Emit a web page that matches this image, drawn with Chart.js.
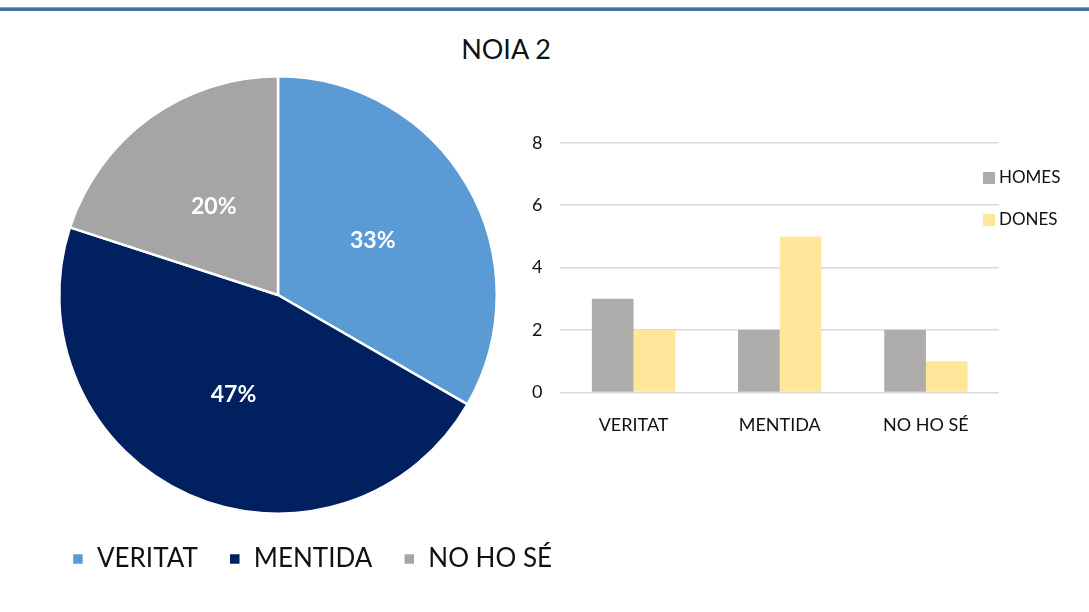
<!DOCTYPE html>
<html>
<head>
<meta charset="utf-8">
<script src="https://cdn.jsdelivr.net/npm/chart.js@4"></script>
<style>
  body { margin: 0; width: 1089px; height: 612px; background: #fff; position: relative; overflow: hidden; font-family: Lato, sans-serif; }
  #linia { position: absolute; left: 0; top: 7px; width: 1089px; height: 3px; background: #44709f; border-top: 1px solid #7f9fc0; }
  #titol { position: absolute; left: 406px; top: 32px; width: 200px; text-align: center; font-size: 27px; color: #111; }
  #pastis { position: absolute; left: 0; top: 67px; }
  #barres { position: absolute; left: 514px; top: 114px; }
</style>
</head>
<body>
<div id="linia"></div>
<div id="titol">NOIA 2</div>
<canvas id="pastis" width="624" height="515"></canvas>
<canvas id="barres" width="575" height="336"></canvas>
<script>
const categories = ['VERITAT', 'MENTIDA', 'NO HO SÉ'];
const totals = [5, 7, 3];
const homes = [3, 2, 2];
const dones = [2, 5, 1];
const colorsPastis = ['#5b9bd5', '#002060', '#a5a5a5'];

// etiquetes de percentatge dins del pastis
const percentatges = {
    id: 'percentatges',
    afterDatasetsDraw(chart) {
        const ctx = chart.ctx;
        const meta = chart.getDatasetMeta(0);
        const dades = chart.data.datasets[0].data;
        const suma = dades.reduce((a, b) => a + b, 0);
        ctx.save();
        ctx.fillStyle = '#fff';
        ctx.font = 'bold 23px Lato';
        ctx.textAlign = 'center';
        ctx.textBaseline = 'middle';
        meta.data.forEach((arc, i) => {
            const mig = (arc.startAngle + arc.endAngle) / 2;
            const r = arc.outerRadius * 0.5;
            const x = arc.x + Math.cos(mig) * r;
            const y = arc.y + Math.sin(mig) * r;
            ctx.fillText(Math.round(dades[i] / suma * 100) + '%', x, y);
        });
        ctx.restore();
    }
};

// el pastis queda a l'esquerra, la llegenda una mica desplaçada a la dreta
const retallaArea = {
    id: 'retallaArea',
    afterLayout(chart) {
        chart.chartArea.right -= 68;
        chart.chartArea.width -= 68;
    }
};

// llegenda de les barres a la dreta
const llegendaBarres = {
    id: 'llegendaBarres',
    afterDraw(chart) {
        const ctx = chart.ctx;
        ctx.save();
        ctx.font = '17px Lato';
        ctx.textBaseline = 'middle';
        chart.data.datasets.forEach((ds, i) => {
            const y = 64 + i * 42;
            ctx.fillStyle = ds.backgroundColor;
            ctx.fillRect(469, y - 6, 12, 12);
            ctx.fillStyle = '#111';
            ctx.fillText(ds.label, 485, y);
        });
        ctx.restore();
    }
};

new Chart(document.getElementById('pastis'), {
    type: 'pie',
    data: {
        labels: categories,
        datasets: [{
            data: totals,
            backgroundColor: colorsPastis,
            borderColor: '#fff',
            borderWidth: 2.5
        }]
    },
    options: {
        responsive: false,
        animation: false,
        layout: { padding: { top: 8, bottom: 0 } },
        plugins: {
            legend: {
                position: 'bottom',
                labels: {
                    font: { family: 'Lato', size: 26 },
                    color: '#111',
                    boxWidth: 12,
                    boxHeight: 12,
                    padding: 31
                }
            },
            tooltip: { enabled: false }
        }
    },
    plugins: [percentatges, retallaArea]
});

new Chart(document.getElementById('barres'), {
    type: 'bar',
    data: {
        labels: categories,
        datasets: [
            { label: 'HOMES', data: homes, backgroundColor: '#aeabab' },
            { label: 'DONES', data: dones, backgroundColor: '#ffe699' }
        ]
    },
    options: {
        responsive: false,
        animation: false,
        layout: { padding: { right: 90, top: 0 } },
        datasets: { bar: { barPercentage: 1, categoryPercentage: 0.57 } },
        scales: {
            x: {
                grid: { display: false },
                border: { display: false },
                ticks: { font: { family: 'Lato', size: 18 }, color: '#111', padding: 14 }
            },
            y: {
                min: 0,
                max: 8,
                ticks: { stepSize: 2, font: { family: 'Lato', size: 18 }, color: '#111', padding: 18 },
                grid: { color: '#d9d9d9', lineWidth: 1.5, drawTicks: false },
                border: { display: false }
            }
        },
        plugins: {
            legend: { display: false },
            tooltip: { enabled: false }
        }
    },
    plugins: [llegendaBarres]
});
</script>
</body>
</html>
